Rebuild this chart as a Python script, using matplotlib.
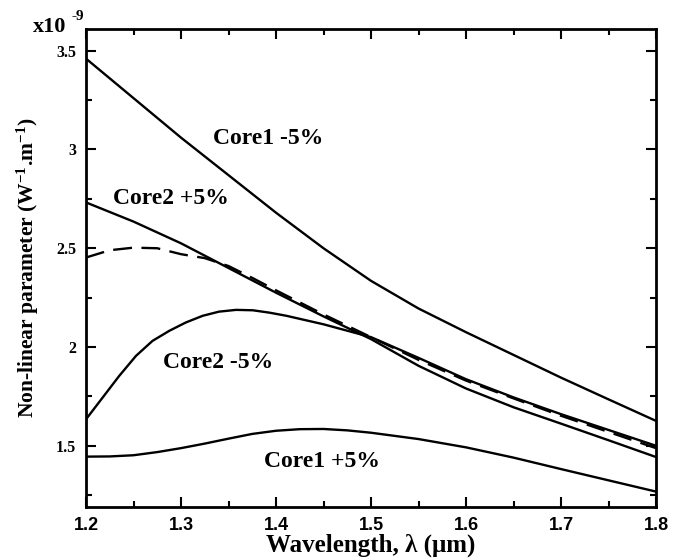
import matplotlib
matplotlib.use("Agg")
import matplotlib.pyplot as plt
from matplotlib.ticker import MultipleLocator, FixedLocator, FixedFormatter

plt.rcParams['mathtext.fontset'] = 'custom'
plt.rcParams['mathtext.rm'] = 'Liberation Serif:bold'
plt.rcParams['mathtext.bf'] = 'Liberation Serif:bold'
plt.rcParams['mathtext.it'] = 'Liberation Serif:bold'

# ---- data (x in um, y in units of 1e-9 W^-1 m^-1) ----
x_c1m = [1.2, 1.25, 1.3, 1.35, 1.4, 1.45, 1.5, 1.55, 1.6, 1.65, 1.7, 1.75, 1.8]
y_c1m = [3.46, 3.26, 3.06, 2.87, 2.68, 2.50, 2.335, 2.195, 2.075, 1.96, 1.845, 1.735, 1.626]

x_c2p = [1.2, 1.25, 1.3, 1.35, 1.4, 1.45, 1.5, 1.55, 1.6, 1.65, 1.7, 1.75, 1.8]
y_c2p = [2.732, 2.635, 2.525, 2.40, 2.275, 2.155, 2.04, 1.905, 1.79, 1.695, 1.612, 1.528, 1.443]

x_dash = [1.2, 1.225, 1.25, 1.275, 1.3, 1.325, 1.35, 1.375, 1.4, 1.45, 1.5, 1.55, 1.6, 1.65, 1.7, 1.75, 1.8]
y_dash = [2.453, 2.49, 2.503, 2.50, 2.47, 2.45, 2.41, 2.35, 2.287, 2.165, 2.05, 1.935, 1.83, 1.74, 1.652, 1.57, 1.488]

x_c2m = [1.2, 1.2175, 1.235, 1.2526, 1.27, 1.2877, 1.305, 1.3228, 1.34, 1.358, 1.3755,
         1.393, 1.411, 1.45, 1.5, 1.55, 1.6, 1.65, 1.7, 1.75, 1.8]
y_c2m = [1.634, 1.744, 1.854, 1.955, 2.031, 2.082, 2.124, 2.158, 2.179, 2.188, 2.186,
         2.174, 2.158, 2.115, 2.05, 1.945, 1.837, 1.745, 1.66, 1.58, 1.50]

x_c1p = [1.2, 1.225, 1.25, 1.275, 1.3, 1.325, 1.35, 1.375, 1.4, 1.425, 1.45, 1.475, 1.5, 1.55, 1.6, 1.65, 1.7, 1.75, 1.8]
y_c1p = [1.445, 1.446, 1.452, 1.468, 1.488, 1.511, 1.536, 1.560, 1.576, 1.584, 1.585, 1.578, 1.566, 1.534, 1.492, 1.44, 1.382, 1.325, 1.268]

labels = ["Core1 -5%", "Core2 +5%", "Core2 -5%", "Core1 +5%"]
label_pos = [(1.392, 3.054), (1.289, 2.75), (1.339, 1.92), (1.448, 1.418)]

xticks = [1.2, 1.3, 1.4, 1.5, 1.6, 1.7, 1.8]
xticklabels = ["1.2", "1.3", "1.4", "1.5", "1.6", "1.7", "1.8"]
yticks = [1.5, 2.0, 2.5, 3.0, 3.5]
yticklabels = ["1.5", "2", "2.5", "3", "3.5"]

# ---- figure ----
fig = plt.figure(figsize=(6.87, 5.6), dpi=100)
ax = fig.add_axes([86/687, 1-507/560, (656-86)/687, (507-29)/560])

lw = 1.7
ax.plot(x_c1m, y_c1m, color='black', lw=lw)
ax.plot(x_c2p, y_c2p, color='black', lw=lw)
ax.plot(x_dash, y_dash, color='black', lw=lw, dashes=(8, 4))
ax.plot(x_c2m, y_c2m, color='black', lw=lw)
ax.plot(x_c1p, y_c1p, color='black', lw=lw)

serif = 'Liberation Serif'
for t, (px, py) in zip(labels, label_pos):
    ax.text(px, py, t, ha='center', va='center', fontsize=17,
            fontweight='bold', family=serif)

ax.set_xlim(1.2, 1.8)
ax.set_ylim(1.19, 3.61)

ax.xaxis.set_major_locator(FixedLocator(xticks))
ax.xaxis.set_major_formatter(FixedFormatter(xticklabels))
ax.xaxis.set_minor_locator(MultipleLocator(0.05))
ax.yaxis.set_major_locator(FixedLocator(yticks))
ax.yaxis.set_major_formatter(FixedFormatter(yticklabels))
ax.yaxis.set_minor_locator(MultipleLocator(0.25))

ax.tick_params(which='both', direction='in', top=True, right=True, width=1.5)
ax.tick_params(which='major', length=7)
ax.tick_params(which='minor', length=4)
ax.tick_params(axis='x', which='major', pad=7)
ax.tick_params(axis='y', which='major', pad=7)

for lab in ax.get_xticklabels():
    lab.set_fontfamily('Liberation Sans')
    lab.set_fontweight('bold')
    lab.set_fontsize(13)
for lab in ax.get_yticklabels():
    lab.set_fontfamily(serif)
    lab.set_fontweight('bold')
    lab.set_fontsize(11.5)

for sp in ax.spines.values():
    sp.set_linewidth(2.0)

ax.set_xlabel("Wavelength, \u03bb (\u03bcm)", fontsize=18, fontweight='bold',
              family=serif, labelpad=0)
ax.set_ylabel("Non-linear parameter (W$^{-1}$.m$^{-1}$)", fontsize=15.5,
              fontweight='bold', family=serif, labelpad=11)

fig.text(33/687, 1-32/560, "x10", fontsize=16, fontweight='bold', family=serif,
         ha='left', va='baseline')
fig.text(71/687, 1-20/560, "-9", fontsize=11, fontweight='bold', family=serif,
         ha='left', va='baseline')

fig.savefig("out.png", dpi=100)
